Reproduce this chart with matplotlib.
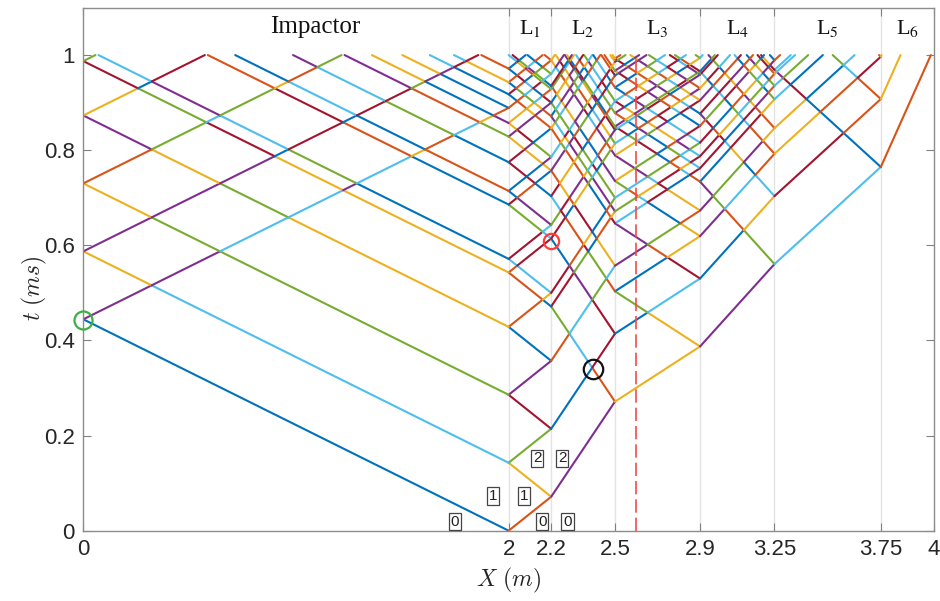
import heapq
import numpy as np
import matplotlib
matplotlib.use("Agg")
import matplotlib.pyplot as plt
from matplotlib.collections import LineCollection

# ---------------- data ----------------
interfaces = [0.0, 2.0, 2.2, 2.5, 2.9, 3.25, 3.75, 4.0]     # layer boundaries (m)
wave_speeds = [4.5, 2.8, 1.5, 3.45, 2.02, 2.45, 1.0]        # wave speed in each layer (m/ms)
layer_names = ["Impactor", "L$_1$", "L$_2$", "L$_3$", "L$_4$", "L$_5$", "L$_6$"]
impact_boundary = 1                                         # impact face at x = 2
t_end = 1.0

x_ticks = [0, 2, 2.2, 2.5, 2.9, 3.25, 3.75, 4]
x_tick_labels = ["0", "2", "2.2", "2.5", "2.9", "3.25", "3.75", "4"]
y_ticks = [0, 0.2, 0.4, 0.6, 0.8, 1.0]
y_tick_labels = ["0", "0.2", "0.4", "0.6", "0.8", "1"]

probe_x = 2.6
circle_x = [0.0, 2.2, 2.395]
circle_t = [0.442, 0.61, 0.34]
circle_colors = ["#3cb043", "#ff3b3b", "#111111"]
circle_sizes = [13, 11, 14]

order_labels = ["0", "0", "0", "1", "1", "2", "2"]
order_label_x = [1.747, 2.158, 2.277, 1.925, 2.073, 2.135, 2.252]
order_label_t = [0.019, 0.019, 0.019, 0.073, 0.073, 0.152, 0.152]

matlab_colors = ["#0072BD", "#D95319", "#EDB120", "#7E2F8E",
                 "#77AC30", "#4DBEEE", "#A2142F"]

# ---------------- wave tracing ----------------
speeds = np.array(wave_speeds)
tau = np.diff(interfaces) / speeds
nL = len(wave_speeds)


def tkey(t):
    return int(round(t * 1e7))


rays = []
events = {(impact_boundary, 0): {"t": 0.0, "b": impact_boundary, "inc": {"impact"}}}
heap = [(0.0, impact_boundary)]
processed = set()
boundary_events = []
while heap:
    t, b = heapq.heappop(heap)
    k = (b, tkey(t))
    if k in processed:
        continue
    processed.add(k)
    ev = events[k]
    inc = ev["inc"]
    cl = (b - 1, -1) if b - 1 >= 0 else None
    cr = (b, 1) if b < nL else None
    if inc == {"fromright"}:
        order = [cr, cl]
    else:
        order = [cl, cr]
    outs = []
    for o in order:
        if o is None:
            continue
        layer, d = o
        rid = len(rays)
        t1 = t + tau[layer]
        rays.append({"layer": layer, "d": d, "t0": t, "t1": t1})
        outs.append((rid, t))
        if t1 < t_end:
            bb = layer + 1 if d > 0 else layer
            kk = (bb, tkey(t1))
            if kk not in events:
                events[kk] = {"t": t1, "b": bb, "inc": set()}
                heapq.heappush(heap, (t1, bb))
            events[kk]["inc"].add("fromleft" if d > 0 else "fromright")
    boundary_events.append((t, interfaces[b], outs))

# crossings of opposite-moving waves inside each layer
cuts = {i: [] for i in range(len(rays))}
crossings = []
eps = 1e-9
for i in range(nL):
    R = [j for j, r in enumerate(rays) if r["layer"] == i and r["d"] > 0]
    Lm = [j for j, r in enumerate(rays) if r["layer"] == i and r["d"] < 0]
    for a in R:
        ra = rays[a]
        for bidx in Lm:
            rb = rays[bidx]
            tc = 0.5 * (tau[i] + ra["t0"] + rb["t0"])
            if tc <= max(ra["t0"], rb["t0"]) + eps or tc >= min(ra["t1"], rb["t1"]) - eps:
                continue
            if tc >= t_end:
                continue
            xc = interfaces[i] + speeds[i] * (tc - ra["t0"])
            crossings.append((tc, xc, [(bidx, tc), (a, tc)]))
            cuts[a].append(tc)
            cuts[bidx].append(tc)

all_events = sorted(boundary_events + crossings, key=lambda e: (round(e[0], 9), e[1]))
seg_color = {}
counter = 0
for t, x, outs in all_events:
    for rid, ts in outs:
        seg_color[(rid, tkey(ts))] = counter
        counter += 1


def xpos(r, t):
    if r["d"] > 0:
        return interfaces[r["layer"]] + speeds[r["layer"]] * (t - r["t0"])
    return interfaces[r["layer"] + 1] - speeds[r["layer"]] * (t - r["t0"])


segs = []
for rid, r in enumerate(rays):
    if r["t0"] >= t_end:
        continue
    pts = [r["t0"]] + sorted(cuts[rid]) + [min(r["t1"], t_end)]
    for s, e in zip(pts[:-1], pts[1:]):
        if e - s <= 1e-12:
            continue
        idx = seg_color[(rid, tkey(s))]
        segs.append((idx, [(xpos(r, s), s), (xpos(r, e), e)]))
segs.sort(key=lambda z: z[0])

# ---------------- figure ----------------
fig = plt.figure(figsize=(9.4, 6.01), dpi=100)
ax = fig.add_axes([83.3 / 940, (601 - 530.7) / 601, (934 - 83.3) / 940, (530.7 - 7.5) / 601])
ax.set_xlim(0, 4)
ax.set_ylim(0, 1.1)

for xb in interfaces[1:-1]:
    ax.axvline(xb, color="#e3e3e3", lw=1.0, zorder=0)

lc = LineCollection([s[1] for s in segs],
                    colors=[matlab_colors[s[0] % 7] for s in segs],
                    linewidths=1.5, zorder=2, capstyle="round")
ax.add_collection(lc)

ax.plot([probe_x, probe_x], [0, t_end], color="#f24a4a", lw=1.2, dashes=(8, 3), zorder=3)

for cx, ct, cc, cs in zip(circle_x, circle_t, circle_colors, circle_sizes):
    ax.plot([cx], [ct], marker="o", ms=cs, mfc="none", mec=cc, mew=1.6, zorder=5, clip_on=False)

for s, x, t in zip(order_labels, order_label_x, order_label_t):
    ax.text(x, t, s, ha="center", va="center", fontsize=11, family="Liberation Sans",
            color="#222222", zorder=6,
            bbox=dict(boxstyle="square,pad=0.12", fc="white", ec="#444444", lw=0.9))

centers = [(a + b) / 2 for a, b in zip(interfaces[:-1], interfaces[1:])]
for i, (name, cxp) in enumerate(zip(layer_names, centers)):
    if i == 0:
        ax.text(1.09, 1.058, name, ha="center", va="center", fontsize=18,
                family="Liberation Serif", color="#111111")
    else:
        ax.text(cxp, 1.055, name, ha="center", va="center", fontsize=16,
                family="Liberation Serif", math_fontfamily="stix", color="#111111")

ax.set_xticks(x_ticks)
ax.set_xticklabels(x_tick_labels)
ax.set_yticks(y_ticks)
ax.set_yticklabels(y_tick_labels)
for lab in ax.get_xticklabels() + ax.get_yticklabels():
    lab.set_family(["Liberation Sans Narrow", "Liberation Sans", "DejaVu Sans"])
ax.tick_params(direction="in", top=True, right=True, length=6, width=0.8,
               color="#808080", labelsize=16, labelcolor="#262626", pad=6)
for sp in ax.spines.values():
    sp.set_color("#8c8c8c")
    sp.set_linewidth(1.0)

ax.set_xlabel(r"$X\ (m)$", fontsize=17, math_fontfamily="cm", color="#262626", labelpad=4)
ax.set_ylabel(r"$t\ (ms)$", fontsize=17, math_fontfamily="cm", color="#262626",
              va="center")
ax.yaxis.set_label_coords(-0.057, 0.464)

fig.savefig("out.png", dpi=100)
